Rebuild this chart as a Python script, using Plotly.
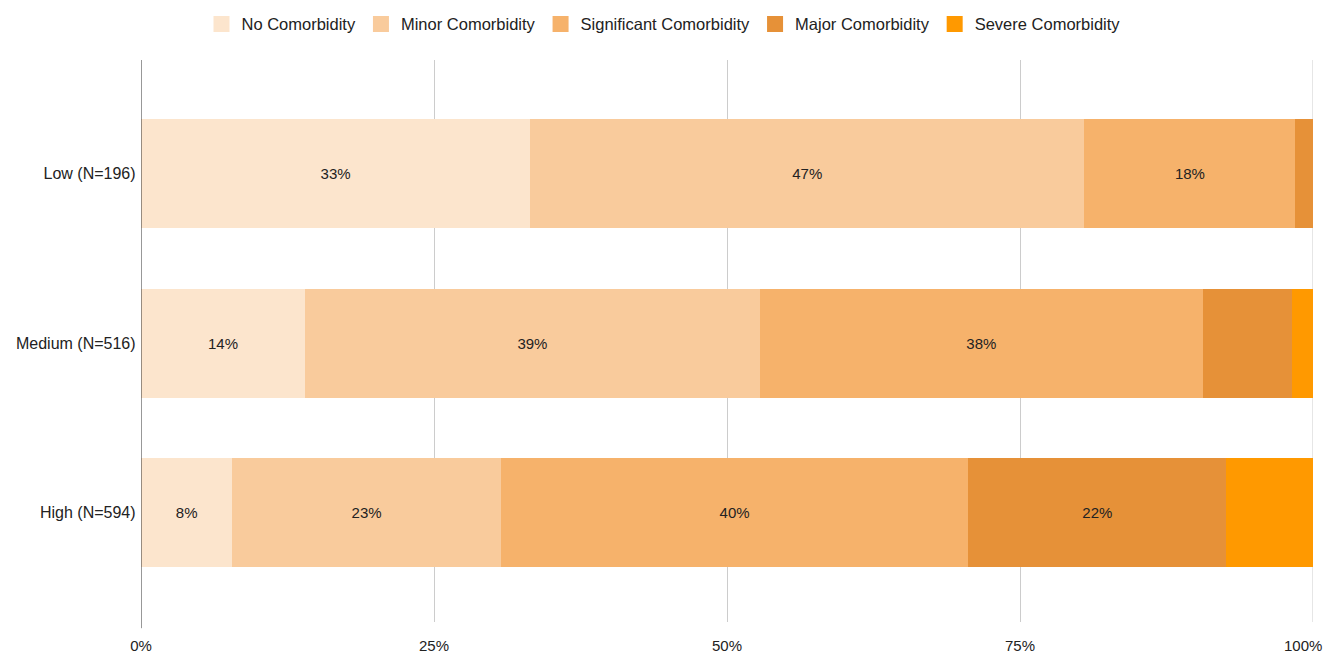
import plotly.graph_objects as go

# Risk groups and comorbidity shares (percent of group)
groups = ["Low (N=196)", "Medium (N=516)", "High (N=594)"]
series = ["No Comorbidity", "Minor Comorbidity", "Significant Comorbidity",
          "Major Comorbidity", "Severe Comorbidity"]
no_comorbidity = [33.2, 14.0, 7.8]
minor_comorbidity = [47.3, 38.8, 22.9]
significant_comorbidity = [18.0, 37.8, 39.9]
major_comorbidity = [1.5, 7.6, 22.0]
severe_comorbidity = [0.0, 1.8, 7.4]
colors = ["#FCE5CD", "#F9CB9C", "#F6B26B", "#E69138", "#FF9900"]
tick_vals = [0, 25, 50, 75, 100]
tick_text = ["0%", "25%", "50%", "75%", "100%"]

values = [no_comorbidity, minor_comorbidity, significant_comorbidity,
          major_comorbidity, severe_comorbidity]

FONT = "Liberation Sans, Arial"

fig = go.Figure()
for name, vals, col in zip(series, values, colors):
    labels = [f"{round(v)}%" if v >= 7.8 else "" for v in vals]
    fig.add_trace(go.Bar(
        name=name, y=groups, x=vals, orientation="h",
        marker=dict(color=col, line=dict(width=0)),
        text=labels, textposition="inside", insidetextanchor="middle",
        textfont=dict(color="#222222", size=15, family=FONT),
        width=0.643, showlegend=False, legendgroup=name,
    ))
    # legend entry with a larger square swatch
    fig.add_trace(go.Scatter(
        name=name, x=[None], y=[None], mode="markers",
        marker=dict(symbol="square", size=16, color=col, line=dict(width=0)),
        legendgroup=name, showlegend=True, hoverinfo="skip",
    ))

fig.update_layout(
    barmode="stack",
    width=1335, height=653,
    margin=dict(l=141, r=22, t=60, b=31, autoexpand=False),
    paper_bgcolor="white", plot_bgcolor="white",
    font=dict(family=FONT, size=15, color="#222222"),
    uniformtext=dict(mode="show", minsize=15),
    legend=dict(orientation="h", x=0.497, xanchor="center", xref="container",
                y=0.963, yanchor="middle", yref="container",
                font=dict(size=16.5), itemwidth=30, traceorder="normal"),
    xaxis=dict(range=[0, 100], tickvals=tick_vals[:-1], ticktext=tick_text[:-1],
               showgrid=True, gridcolor="#cccccc", gridwidth=1, zeroline=False,
               ticks="", tickfont=dict(size=15), automargin=False,
               ticklabelstandoff=13, fixedrange=True),
    yaxis=dict(categoryorder="array", categoryarray=groups,
               range=[2.646, -0.67], showgrid=False, zeroline=False,
               showline=False, ticks="", ticksuffix=" ", automargin=False,
               tickfont=dict(size=16)),
)

# Gridline at the right end, with its label kept inside the page
fig.add_shape(type="line", xref="x", yref="paper", x0=tick_vals[-1], x1=tick_vals[-1],
              y0=0, y1=1, line=dict(color="#cccccc", width=1), layer="below")
fig.add_annotation(x=tick_vals[-1], xref="x", y=0, yref="paper",
                   text=tick_text[-1], showarrow=False, xanchor="right",
                   yanchor="top", xshift=11, yshift=-13,
                   font=dict(size=15, family=FONT, color="#222222"))

# Baseline axis line at 0%, with a short tick below the plot
fig.add_shape(type="line", xref="x", yref="paper", x0=0, x1=0, y0=-0.011, y1=1,
              line=dict(color="#333333", width=1))

fig.write_html("out.html")
